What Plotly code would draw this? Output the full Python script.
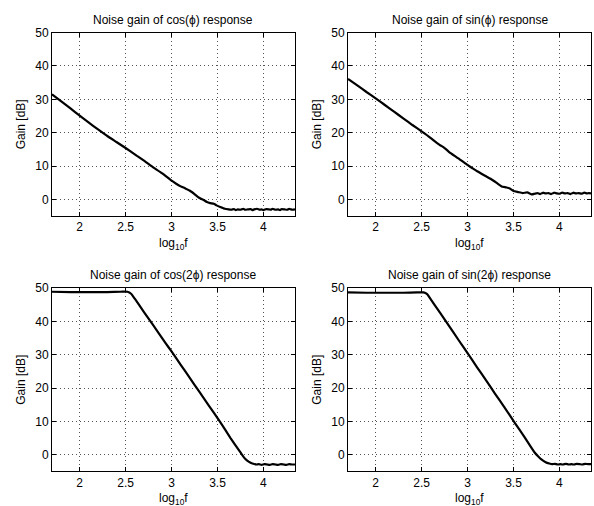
import plotly.graph_objects as go

# ---------------- data ----------------
titles = ["Noise gain of cos(\u03d5) response", "Noise gain of sin(\u03d5) response",
          "Noise gain of cos(2\u03d5) response", "Noise gain of sin(2\u03d5) response"]

x_cos = [1.699, 1.8, 1.9, 2.0, 2.1, 2.2, 2.3, 2.4, 2.5, 2.6, 2.66, 2.7, 2.8, 2.9, 3.0,
         3.05, 3.1, 3.15, 3.2, 3.25, 3.3, 3.35, 3.385, 3.42, 3.46, 3.49, 3.53, 3.56, 3.58,
         3.62, 3.65, 3.68, 3.7, 3.72, 3.75, 3.78, 3.8, 3.83, 3.86, 3.88, 3.9, 3.93, 3.96,
         3.98, 4.0, 4.03, 4.06, 4.08, 4.1, 4.13, 4.16, 4.18, 4.2, 4.23, 4.26, 4.28, 4.3,
         4.32, 4.3435]
y_cos = [31.5, 29.4, 27.3, 25.1, 23.0, 21.0, 19.0, 17.2, 15.4, 13.5, 12.4, 11.6, 9.6, 7.8, 5.6,
         4.7, 3.9, 3.3, 2.6, 1.6, 0.5, -0.2, -0.8, -1.1, -1.3, -1.8, -2.3, -2.6, -2.8,
         -3.0, -3.1, -2.9, -3.2, -3.0, -3.1, -2.8, -3.1, -3.0, -2.9, -3.2, -3.0, -2.8, -3.1,
         -3.0, -3.2, -2.9, -3.0, -3.1, -2.8, -3.1, -3.0, -3.2, -2.9, -3.0, -3.1, -2.8, -3.0,
         -3.1, -3.0]

x_sin = [1.699, 1.8, 1.9, 2.0, 2.1, 2.2, 2.3, 2.4, 2.5, 2.6, 2.645, 2.7, 2.75, 2.8, 2.9,
         2.99, 3.05, 3.1, 3.19, 3.25, 3.3, 3.37, 3.42, 3.46, 3.5, 3.55, 3.6, 3.65, 3.7,
         3.73, 3.76, 3.79, 3.82, 3.85, 3.88, 3.91, 3.94, 3.97, 4.0, 4.03, 4.06, 4.09, 4.12,
         4.15, 4.18, 4.21, 4.24, 4.27, 4.3, 4.32, 4.3435]
y_sin = [36.1, 34.2, 32.2, 30.3, 28.3, 26.3, 24.3, 22.3, 20.4, 18.4, 17.4, 16.3, 15.4, 14.2, 12.3,
         10.5, 9.4, 8.5, 7.1, 6.2, 5.3, 3.9, 3.6, 3.3, 2.5, 2.2, 1.9, 2.1, 1.5,
         1.7, 1.9, 1.6, 2.0, 1.8, 1.9, 1.6, 2.0, 1.8, 1.7, 2.0, 1.8, 1.9, 1.6,
         2.0, 1.8, 1.9, 1.7, 2.0, 1.8, 1.9, 1.8]

x_cos2 = [1.699, 1.9, 2.1, 2.3, 2.45, 2.52, 2.56, 2.6, 2.7, 2.8, 2.935, 3.0, 3.1, 3.2,
          3.3, 3.4, 3.53, 3.64, 3.75, 3.785, 3.82, 3.86, 3.89, 3.92, 3.95, 3.98, 4.01,
          4.04, 4.07, 4.1, 4.13, 4.16, 4.19, 4.22, 4.25, 4.28, 4.31, 4.3435]
y_cos2 = [48.9, 48.8, 48.8, 48.8, 48.9, 48.9, 48.3, 46.8, 42.8, 38.9, 33.5, 31.0, 27.0, 23.0,
          19.0, 15.0, 9.8, 5.1, 0.7, -0.7, -1.7, -2.4, -2.7, -2.9, -2.8, -3.0, -2.8,
          -2.9, -3.0, -2.8, -2.9, -3.0, -2.8, -2.9, -3.0, -2.8, -2.9, -2.9]

x_sin2 = [1.699, 1.9, 2.1, 2.3, 2.45, 2.52, 2.56, 2.6, 2.7, 2.8, 2.9, 3.0, 3.1, 3.2,
          3.3, 3.4, 3.514, 3.62, 3.73, 3.77, 3.8, 3.85, 3.89, 3.92, 3.95, 3.98, 4.01,
          4.04, 4.07, 4.1, 4.13, 4.16, 4.19, 4.22, 4.25, 4.28, 4.31, 4.3435]
y_sin2 = [48.7, 48.6, 48.6, 48.6, 48.7, 48.7, 48.2, 46.6, 42.6, 38.6, 34.5, 30.5, 26.4, 22.4,
          18.3, 14.3, 9.6, 5.3, 0.7, -0.5, -1.3, -2.2, -2.6, -2.8, -2.7, -2.9, -2.8,
          -2.9, -2.7, -2.9, -2.8, -2.9, -2.7, -2.8, -2.9, -2.7, -2.8, -2.8]

series = [(x_cos, y_cos), (x_sin, y_sin), (x_cos2, y_cos2), (x_sin2, y_sin2)]

x_ticks = [2, 2.5, 3, 3.5, 4]
x_tick_labels = ["2", "2.5", "3", "3.5", "4"]
y_ticks = [0, 10, 20, 30, 40, 50]
x_range = [1.699, 4.3435]
y_range = [-5, 50]

# ---------------- layout ----------------
W, H = 594, 506
FONT = "Liberation Sans, Arial, Helvetica, sans-serif"
FS = 12
# panel boxes in pixels: (left, right, top, bottom)
boxes = [(52, 295, 26, 212), (348, 591, 26, 212), (52, 295, 285, 471), (348, 591, 285, 471)]

fig = go.Figure()
annotations = []
for i, ((xs, ys), (l, r, t, b)) in enumerate(zip(series, boxes)):
    n = i + 1
    xa = "x" if n == 1 else f"x{n}"
    ya = "y" if n == 1 else f"y{n}"
    fig.add_trace(go.Scatter(x=xs, y=ys, mode="lines", xaxis=xa, yaxis=ya,
                             line=dict(color="black", width=2.2, shape="spline", smoothing=0.4),
                             showlegend=False, hoverinfo="skip"))
    axis_common = dict(showline=True, linecolor="black", linewidth=1, mirror="allticks",
                       ticks="inside", ticklen=4, tickcolor="black", tickwidth=1,
                       showgrid=True, gridcolor="#555555", gridwidth=1, griddash="1px,3px",
                       zeroline=False, tickfont=dict(family=FONT, size=FS, color="black"),
                       fixedrange=True)
    xkey = "xaxis" if n == 1 else f"xaxis{n}"
    ykey = "yaxis" if n == 1 else f"yaxis{n}"
    fig.update_layout(**{
        xkey: dict(domain=[l / W, r / W], range=x_range, tickvals=x_ticks,
                   ticktext=x_tick_labels, anchor=ya, **axis_common),
        ykey: dict(domain=[1 - b / H, 1 - t / H], range=y_range, tickvals=y_ticks,
                   anchor=xa, **axis_common),
    })
    cx = (l + r) / 2
    annotations.append(dict(text=titles[i], x=cx / W, y=1 - (t - 13) / H, xref="paper",
                            yref="paper", showarrow=False, xanchor="center", yanchor="middle",
                            font=dict(family=FONT, size=FS, color="black")))
    annotations.append(dict(text="log<sub>10</sub>f", x=cx / W, y=1 - (b + 28) / H,
                            xref="paper", yref="paper", showarrow=False, xanchor="center",
                            yanchor="middle", font=dict(family=FONT, size=FS, color="black")))
    annotations.append(dict(text="Gain [dB]", x=(l - 31) / W, y=1 - ((t + b) / 2) / H,
                            xref="paper", yref="paper", showarrow=False, xanchor="center",
                            yanchor="middle", textangle=-90,
                            font=dict(family=FONT, size=FS, color="black")))

fig.update_layout(width=W, height=H, margin=dict(l=0, r=0, t=0, b=0),
                  paper_bgcolor="white", plot_bgcolor="white", annotations=annotations)

fig.write_html("out.html", config={"displayModeBar": False},
               post_script="document.body.style.margin='0px';"
                           "document.documentElement.style.overflow='hidden';")
